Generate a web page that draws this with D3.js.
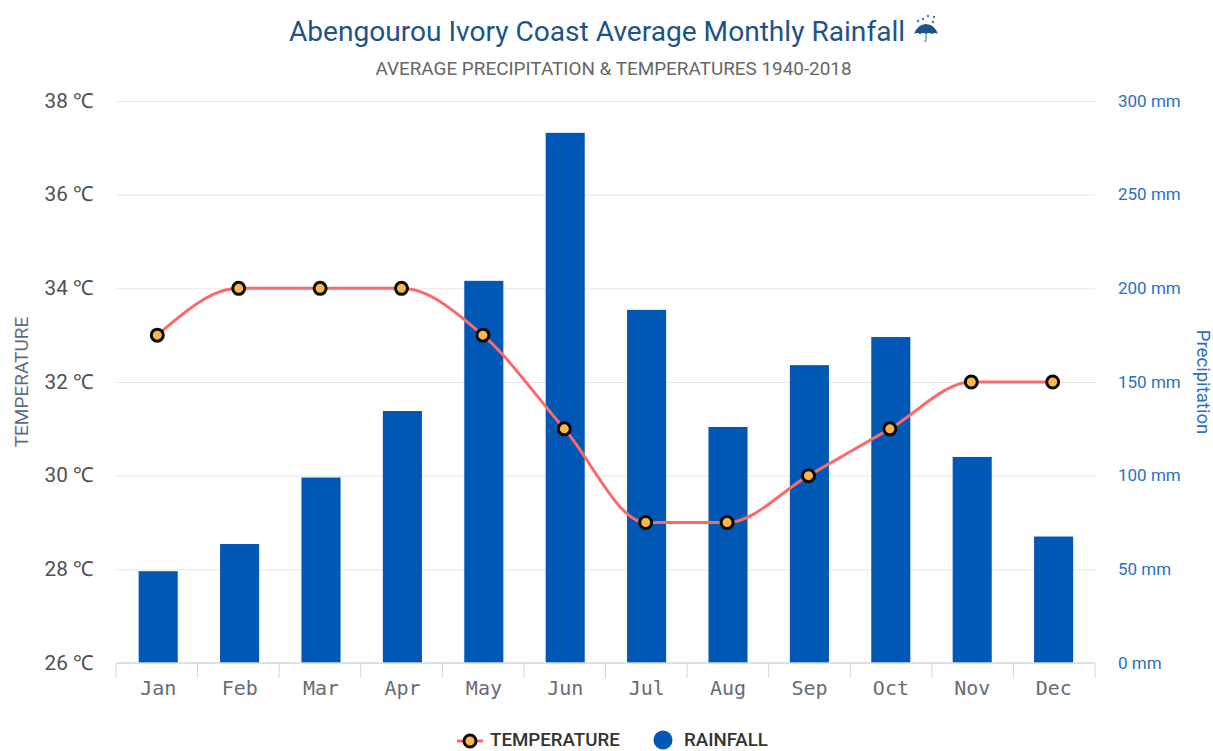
<!DOCTYPE html>
<html>
<head>
<meta charset="utf-8">
<script src="https://cdn.jsdelivr.net/npm/d3@7"></script>
<style>
    html, body { margin: 0; padding: 0; background: #fff; }
    text { font-family: Roboto, sans-serif; }
</style>
</head>
<body>
<div class="canvas"></div>
<script>
// chart values
const months = ['Jan', 'Feb', 'Mar', 'Apr', 'May', 'Jun', 'Jul', 'Aug', 'Sep', 'Oct', 'Nov', 'Dec'];
const temperature = [33, 34, 34, 34, 33, 31, 29, 29, 30, 31, 32, 32];
const rainfall = [49, 63.5, 99, 134.5, 204, 283, 188.5, 126, 159, 174, 110, 67.5];
const tempTicks = [26, 28, 30, 32, 34, 36, 38];
const rainTicks = [0, 50, 100, 150, 200, 250, 300];
const legendNames = ['TEMPERATURE', 'RAINFALL'];

const svg = d3.select('.canvas')
    .append('svg')
    .attr('width', 1213)
    .attr('height', 751)
    .style('display', 'block');

const margin = { top: 101, right: 118, bottom: 88, left: 116 };
const graphWidth = 1213 - margin.left - margin.right;
const graphHeight = 751 - margin.top - margin.bottom;

const graph = svg.append('g')
    .attr('transform', `translate(${margin.left},${margin.top})`);

// scales
const x = d3.scaleBand().domain(months).range([0, graphWidth]);
// points and bars are a touch narrower than the tick spacing in the original
const xPoint = d3.scalePoint().domain(months).range([41.3, 936.7]);
const barX = d3.scaleBand().domain(months).range([1.5, 978.3]).paddingInner(0.52).paddingOuter(0.26);
const yTemp = d3.scaleLinear().domain([26, 38]).range([graphHeight, 0]);
const yRain = d3.scaleLinear().domain([0, 300]).range([graphHeight, 0]);

// left axis + gridlines
const leftAxis = graph.append('g')
    .call(d3.axisLeft(yTemp).tickValues(tempTicks).tickSize(-graphWidth).tickFormat(d => d + ' ℃'));
leftAxis.select('.domain').remove();
leftAxis.selectAll('.tick line')
    .attr('stroke', '#e6e6e6')
    .attr('stroke-width', 1);
leftAxis.selectAll('.tick text')
    .attr('x', -22)
    .attr('dy', '0.3em')
    .attr('fill', '#505050')
    .style('font-size', '20.7px');
leftAxis.selectAll('.tick').filter(d => d === 26).select('line').remove();

// right axis
const rightAxis = graph.append('g')
    .attr('transform', `translate(${graphWidth},0)`)
    .call(d3.axisRight(yRain).tickValues(rainTicks).tickSize(0).tickFormat(d => d + ' mm'));
rightAxis.select('.domain').remove();
rightAxis.selectAll('.tick text')
    .attr('x', 23)
    .attr('dy', '0.3em')
    .attr('fill', '#2a6fc4')
    .style('font-size', '17px');

// bars
graph.selectAll('rect.bar')
    .data(rainfall)
    .enter()
    .append('rect')
    .attr('class', 'bar')
    .attr('x', (d, i) => barX(months[i]))
    .attr('y', d => yRain(d))
    .attr('width', barX.bandwidth())
    .attr('height', d => graphHeight - yRain(d))
    .attr('fill', '#0057b4');

// bottom axis, ticks sit between the months
const bottomAxis = graph.append('g')
    .attr('transform', `translate(0,${graphHeight})`)
    .call(d3.axisBottom(xPoint).tickSize(0));
bottomAxis.select('.domain').remove();
bottomAxis.append('line')
    .attr('x1', 0)
    .attr('x2', graphWidth)
    .attr('stroke', '#ccd6eb')
    .attr('stroke-width', 1.5);
bottomAxis.selectAll('.tick text')
    .attr('x', 0.5)
    .attr('y', 18)
    .attr('dy', '0.71em')
    .attr('fill', '#666c78')
    .style('font-family', '"DejaVu Sans Mono", monospace')
    .style('font-size', '20px');
bottomAxis.selectAll('line.sep')
    .data(d3.range(months.length + 1))
    .enter()
    .append('line')
    .attr('class', 'sep')
    .attr('x1', d => d * x.step())
    .attr('x2', d => d * x.step())
    .attr('y1', 0)
    .attr('y2', 15)
    .attr('stroke', '#ccd6eb')
    .attr('stroke-width', 1);

// temperature line
const line = d3.line()
    .x((d, i) => xPoint(months[i]))
    .y(d => yTemp(d))
    .curve(d3.curveMonotoneX);

graph.append('path')
    .attr('d', line(temperature))
    .attr('fill', 'none')
    .attr('stroke', '#fb6a6a')
    .attr('stroke-width', 3);

graph.selectAll('circle.temp')
    .data(temperature)
    .enter()
    .append('circle')
    .attr('class', 'temp')
    .attr('cx', (d, i) => xPoint(months[i]))
    .attr('cy', d => yTemp(d))
    .attr('r', 6)
    .attr('fill', '#f9b949')
    .attr('stroke', '#0a0a0a')
    .attr('stroke-width', 3);

// titles
svg.append('text')
    .attr('x', 597)
    .attr('y', 41)
    .attr('text-anchor', 'middle')
    .attr('fill', '#1d5389')
    .style('font-size', '28.1px')
    .text('Abengourou Ivory Coast Average Monthly Rainfall');

svg.append('text')
    .attr('x', 613.5)
    .attr('y', 75)
    .attr('text-anchor', 'middle')
    .attr('fill', '#666666')
    .style('font-size', '18.9px')
    .text('AVERAGE PRECIPITATION & TEMPERATURES 1940-2018');

// little umbrella next to the title
const umbrella = svg.append('g').attr('transform', 'translate(926,33)');
umbrella.append('path')
    .attr('d', 'M-12,1 Q-8,-9 0,-9 Q8,-9 12,1 Q9,-1 6,1 Q3,-1 0,1 Q-3,-1 -6,1 Q-9,-1 -12,1 Z')
    .attr('fill', '#1d5389');
umbrella.append('path')
    .attr('d', 'M0,0 V7 Q0,9 -2,8')
    .attr('fill', 'none')
    .attr('stroke', '#5f86ad')
    .attr('stroke-width', 1.2);
umbrella.selectAll('circle')
    .data([[-8, -12], [-3, -14], [2, -17], [8, -16], [7, -11]])
    .enter()
    .append('circle')
    .attr('cx', d => d[0])
    .attr('cy', d => d[1])
    .attr('r', 1.2)
    .attr('fill', '#4d7ba8');

// axis titles
svg.append('text')
    .attr('transform', 'translate(28,382) rotate(-90)')
    .attr('text-anchor', 'middle')
    .attr('fill', '#5f6b80')
    .style('font-size', '19px')
    .text('TEMPERATURE');

svg.append('text')
    .attr('transform', 'translate(1197,382) rotate(90)')
    .attr('text-anchor', 'middle')
    .attr('fill', '#2a6fc4')
    .style('font-size', '18.6px')
    .text('Precipitation');

// legend
const legend = svg.append('g');
legend.append('line')
    .attr('x1', 457).attr('x2', 483)
    .attr('y1', 741).attr('y2', 741)
    .attr('stroke', '#fb6a6a')
    .attr('stroke-width', 3);
legend.append('circle')
    .attr('cx', 470).attr('cy', 741).attr('r', 6)
    .attr('fill', '#f9b949')
    .attr('stroke', '#0a0a0a')
    .attr('stroke-width', 3);
legend.append('circle')
    .attr('cx', 663).attr('cy', 740).attr('r', 9.5)
    .attr('fill', '#0057b4');
legend.selectAll('text')
    .data(legendNames)
    .enter()
    .append('text')
    .attr('x', (d, i) => [490, 684][i])
    .attr('y', 746.4)
    .attr('fill', '#333333')
    .style('font-size', '18.7px')
    .style('font-weight', 500)
    .text(d => d);
</script>
</body>
</html>
